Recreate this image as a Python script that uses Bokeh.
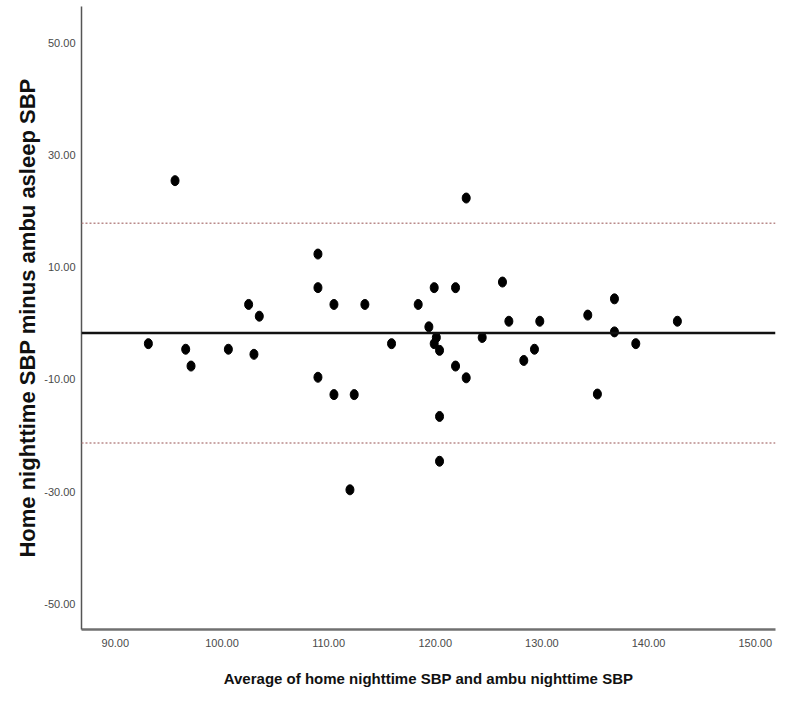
from bokeh.plotting import figure
from bokeh.models import Range1d, NumeralTickFormatter, FixedTicker, ColumnDataSource, Span
from bokeh.embed import file_html
from bokeh.resources import INLINE

# Data
avg_sbp = [93.1, 95.6, 96.6, 97.1, 100.6, 102.5, 103.0, 103.5, 109.0, 109.0,
           109.0, 110.5, 110.5, 112.4, 112.0, 113.4, 115.9, 118.4, 119.4, 119.9,
           119.9, 120.1, 120.4, 120.4, 120.4, 121.9, 121.9, 122.9, 122.9, 124.4,
           126.3, 126.9, 128.3, 129.3, 129.8, 134.3, 135.2, 136.8, 136.8, 138.8,
           142.7]
diff_sbp = [-3.6, 25.5, -4.6, -7.6, -4.6, 3.4, -5.5, 1.3, 12.4, 6.4,
            -9.6, 3.4, -12.7, -12.7, -29.7, 3.4, -3.6, 3.4, -0.6, 6.4,
            -3.6, -2.5, -4.8, -16.6, -24.6, 6.4, -7.6, -9.7, 22.4, -2.5,
            7.4, 0.4, -6.6, -4.6, 0.4, 1.5, -12.6, 4.4, -1.5, -3.6,
            0.4]
mean_diff = -1.7
upper_loa = 17.9
lower_loa = -21.35
x_ticks = [90, 100, 110, 120, 130, 140, 150]
y_ticks = [-50, -30, -10, 10, 30, 50]
x_title = "Average of home nighttime SBP and ambu nighttime SBP"
y_title = "Home nighttime SBP minus ambu asleep SBP"

SANS = "Liberation Sans"

p = figure(width=776, height=690, output_backend="svg", toolbar_location=None,
           x_range=Range1d(86.83, 151.9), y_range=Range1d(-54.64, 56.6),
           min_border_left=81, min_border_right=1, min_border_top=6, min_border_bottom=61)
p.outline_line_color = None
p.xgrid.visible = False
p.ygrid.visible = False
p.background_fill_color = "white"
p.border_fill_color = "white"

src = ColumnDataSource(dict(x=avg_sbp, y=diff_sbp))

for val, col, dash, w in [(upper_loa, "#b98a8a", "2 2", 1.5),
                          (lower_loa, "#b98a8a", "2 2", 1.5),
                          (mean_diff, "#111111", "solid", 2.5)]:
    p.add_layout(Span(location=val, dimension="width", line_color=col,
                      line_dash=dash, line_width=w))

p.ellipse(x="x", y="y", width=8, height=10, width_units="screen", height_units="screen",
          source=src, fill_color="black", line_color="black")

p.xaxis.ticker = FixedTicker(ticks=x_ticks)
p.yaxis.ticker = FixedTicker(ticks=y_ticks)
p.xaxis.formatter = NumeralTickFormatter(format="0.00")
p.yaxis.formatter = NumeralTickFormatter(format="0.00")
for ax in (p.xaxis[0], p.yaxis[0]):
    ax.major_tick_line_color = None
    ax.minor_tick_line_color = None
    ax.major_label_text_font = SANS
    ax.major_label_text_font_size = "11px"
    ax.major_label_text_color = "#4a4a4a"
    ax.axis_label_text_font = SANS
    ax.axis_label_text_font_style = "bold"
    ax.axis_label_text_color = "#111111"

p.xaxis.axis_line_color = "#707070"
p.xaxis.axis_line_width = 2.5
p.yaxis.axis_line_color = "#555555"
p.yaxis.axis_line_width = 1.5
p.xaxis.major_label_standoff = 3
p.yaxis.major_label_standoff = 0

p.xaxis.axis_label = x_title
p.xaxis.axis_label_text_font_size = "15px"
p.xaxis.axis_label_standoff = 20

p.yaxis.axis_label = y_title
p.yaxis.axis_label_text_font_size = "22px"
p.yaxis.axis_label_standoff = 1

open("out.html", "w").write(file_html(p, INLINE))
